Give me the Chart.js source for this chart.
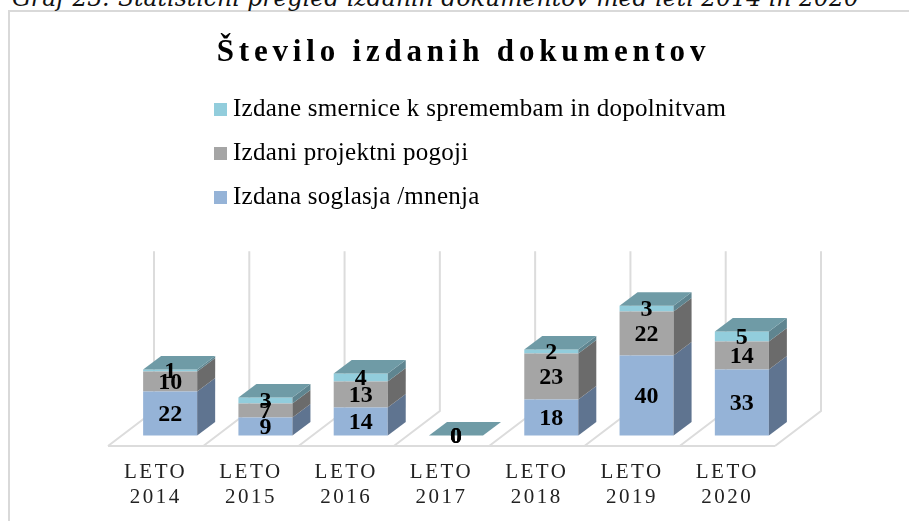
<!DOCTYPE html>
<html>
<head>
<meta charset="utf-8">
<style>
html,body{margin:0;padding:0;background:#fff;width:909px;height:521px;overflow:hidden}
#frame{position:absolute;left:8px;top:10px;width:901px;height:511px;border-left:2px solid #d9d9d9;border-top:2px solid #d9d9d9;box-sizing:border-box}
#caption{position:absolute;left:12px;top:-17px;font:italic 23.6px "DejaVu Serif",serif;white-space:nowrap;color:#111;line-height:30px}
canvas{position:absolute;left:0;top:0}
</style>
<script src="https://cdn.jsdelivr.net/npm/chart.js@4/dist/chart.umd.min.js"></script>
</head>
<body>
<div id="frame"></div>
<div id="caption">Graf 23: Statistični pregled izdanih dokumentov med leti 2014 in 2020</div>
<canvas id="c" width="909" height="521"></canvas>
<script>
const categories = [["LETO","2014"],["LETO","2015"],["LETO","2016"],["LETO","2017"],["LETO","2018"],["LETO","2019"],["LETO","2020"]];
const soglasja = [22,9,14,0,18,40,33];
const pogoji = [10,7,13,0,23,22,14];
const smernice = [1,3,4,0,2,3,5];
const chartTitle = "Število izdanih dokumentov";
const names = ["Izdana soglasja /mnenja","Izdani projektni pogoji","Izdane smernice k spremembam in dopolnitvam"];
const frontColors = ["#95B3D7","#A5A5A5","#92CDDC"];
const sideColors = ["#5F7490","#6B6B6B","#5F8590"];
const topColor = "#6F9BA6";
const serif = '"Liberation Serif", serif';

const depth = {floorX:46, floorY:35, barX:18, barY:13.5, shiftX:14.5, shiftY:10.5};

const solid3d = {
  id:'solid3d',
  afterLayout(chart){
    const t = chart.titleBlock, l = chart.legend;
    t.left = 0; t.right = 927; t.top = 32; t.bottom = 74;
    if(!t._sp){ t._sp = 1; const d = t.draw; t.draw = function(){ chart.ctx.save(); chart.ctx.letterSpacing='4.8px'; d.call(this); chart.ctx.restore(); }; }
    const pad = l.options.labels.padding, w = l.width, h = l.height;
    l.left = 220.5-pad; l.right = l.left + w + 40; l.top = 78; l.bottom = 78 + h;
    const xs = chart.scales.x;
    if(!xs._sp){ xs._sp = 1; const d = xs.drawLabels; xs.drawLabels = function(a){ chart.ctx.save(); chart.ctx.letterSpacing='2.5px'; d.call(this,a); chart.ctx.restore(); }; }
    if(!l._sp){ l._sp = 1; const d = l.draw; l.draw = function(){ chart.ctx.save(); chart.ctx.letterSpacing='0.28px'; d.call(this); chart.ctx.restore(); }; }
  },
  beforeDatasetsDraw(chart){
    const {ctx, scales:{x,y}} = chart;
    const n = categories.length, step = (x.right-x.left)/n;
    ctx.save();
    ctx.strokeStyle = '#dcdcdc'; ctx.lineWidth = 2;
    ctx.beginPath();
    ctx.moveTo(x.left,y.bottom); ctx.lineTo(x.right,y.bottom);
    for(let i=0;i<=n;i++){
      const fx = x.left+i*step;
      ctx.moveTo(fx,y.bottom);
      ctx.lineTo(fx+depth.floorX,y.bottom-depth.floorY);
      ctx.lineTo(fx+depth.floorX,y.top-depth.floorY);
    }
    ctx.stroke();
    ctx.restore();
    ctx.save();
    ctx.translate(depth.shiftX,-depth.shiftY);
  },
  afterDatasetsDraw(chart){
    const {ctx} = chart;
    const last = chart.data.datasets.length-1;
    chart.data.datasets.forEach((ds,di)=>{
      chart.getDatasetMeta(di).data.forEach(b=>{
        const r = b.x+b.width/2, l = b.x-b.width/2, dx = depth.barX, dy = depth.barY;
        if(b.base-b.y>0){
          ctx.fillStyle = sideColors[di];
          ctx.beginPath();
          ctx.moveTo(r,b.y); ctx.lineTo(r+dx,b.y-dy); ctx.lineTo(r+dx,b.base-dy); ctx.lineTo(r,b.base);
          ctx.closePath(); ctx.fill();
        }
        if(di===last){
          ctx.fillStyle = topColor;
          ctx.beginPath();
          ctx.moveTo(l,b.y); ctx.lineTo(l+dx,b.y-dy); ctx.lineTo(r+dx,b.y-dy); ctx.lineTo(r,b.y);
          ctx.closePath(); ctx.fill();
        }
      });
    });
    ctx.fillStyle = '#000';
    ctx.font = 'bold 24px '+serif;
    ctx.textAlign = 'center'; ctx.textBaseline = 'middle';
    chart.data.datasets.forEach((ds,di)=>{
      chart.getDatasetMeta(di).data.forEach((b,i)=>{
        ctx.fillText(String(ds.data[i]), b.x, (b.y+b.base)/2+1);
      });
    });
    ctx.restore();
  }
};

new Chart(document.getElementById('c'),{
  type:'bar',
  data:{
    labels:categories,
    datasets:[soglasja,pogoji,smernice].map((data,i)=>({
      label:names[i], data, backgroundColor:frontColors[i], borderWidth:0,
      barPercentage:1, categoryPercentage:0.567, clip:false
    }))
  },
  plugins:[solid3d],
  options:{
    responsive:false, animation:false,
    layout:{padding:{left:108,right:134,top:244,bottom:0}},
    plugins:{
      title:{display:true,text:chartTitle,color:'#000',padding:0,font:{family:serif,size:31,weight:'bold',lineHeight:1.36}},
      legend:{
        display:true, position:'chartArea', align:'start', reverse:true,
        labels:{usePointStyle:true,pointStyle:'rect',boxWidth:0.01,boxHeight:13,padding:19,color:'#000',font:{family:serif,size:25,lineHeight:1.2}}
      },
      tooltip:{enabled:false}
    },
    scales:{
      x:{
        stacked:true, offset:true,
        border:{display:false},
        grid:{display:false,drawTicks:false},
        afterFit(s){ s.height = 75; },
        ticks:{color:'#222',padding:14,maxRotation:0,autoSkip:false,font:{family:serif,size:21,lineHeight:1.19}}
      },
      y:{stacked:true,display:false,min:0,max:80}
    }
  }
});
</script>
</body>
</html>
